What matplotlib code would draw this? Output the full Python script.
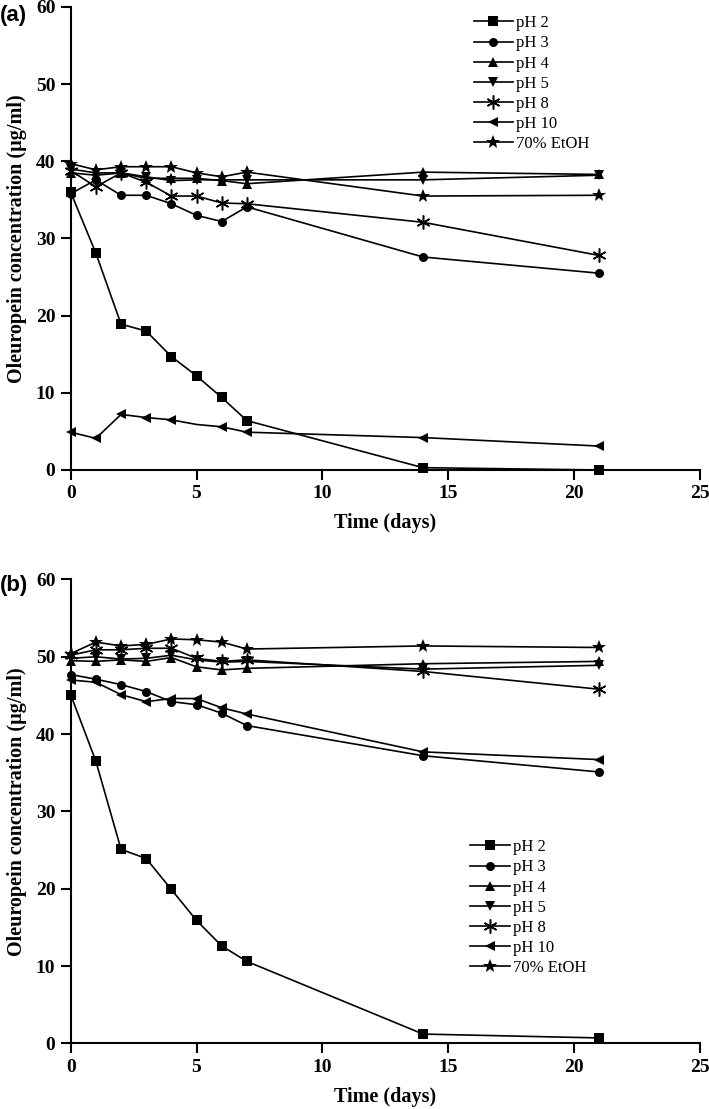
import numpy as np
import matplotlib.pyplot as plt

# sampling days (same for every series and both panels)
days = [0, 1, 2, 3, 4, 5, 6, 7, 14, 21]

labels = ['pH 2', 'pH 3', 'pH 4', 'pH 5', 'pH 8', 'pH 10', '70% EtOH']
markers = ['s', 'o', '^', 'v', (6, 2, 0), '<', '*']

# panel (a) values, ug/ml
a_ph2 = [36.0, 28.1, 18.9, 18.0, 14.7, 12.2, 9.4, 6.4, 0.3, 0.0]
a_ph3 = [35.8, 37.6, 35.6, 35.6, 34.5, 33.0, 32.2, 34.1, 27.6, 25.5]
a_ph4 = [38.5, 38.2, 38.5, 37.8, 37.8, 37.8, 37.5, 37.1, 38.6, 38.3]
a_ph5 = [39.0, 38.5, 38.5, 38.0, 37.5, 37.6, 37.6, 37.6, 37.6, 38.2]
a_ph8 = [38.8, 36.7, 38.5, 37.3, 35.5, 35.5, 34.6, 34.5, 32.1, 27.8]
a_ph10 = [4.9, 4.1, 7.2, 6.8, 6.5, 5.9, 5.6, 4.9, 4.2, 3.1]
a_etoh = [39.7, 38.9, 39.3, 39.3, 39.3, 38.5, 38.0, 38.6, 35.5, 35.6]

# panel (b) values, ug/ml
b_ph2 = [45.1, 36.5, 25.1, 23.9, 19.9, 15.9, 12.6, 10.6, 1.2, 0.7]
b_ph3 = [47.7, 47.1, 46.4, 45.5, 44.2, 43.8, 42.7, 41.1, 37.2, 35.1]
b_ph4 = [49.5, 49.4, 49.6, 49.4, 49.9, 48.7, 48.3, 48.5, 49.1, 49.4]
b_ph5 = [49.8, 50.0, 49.7, 49.8, 50.2, 49.6, 49.3, 49.4, 48.4, 48.9]
b_ph8 = [50.2, 50.9, 50.9, 51.1, 51.1, 49.8, 49.4, 49.6, 48.1, 45.8]
b_ph10 = [47.0, 46.7, 45.1, 44.2, 44.6, 44.6, 43.4, 42.6, 37.7, 36.7]
b_etoh = [50.4, 51.9, 51.4, 51.6, 52.3, 52.2, 51.9, 51.0, 51.4, 51.2]

panel_a = [a_ph2, a_ph3, a_ph4, a_ph5, a_ph8, a_ph10, a_etoh]
panel_b = [b_ph2, b_ph3, b_ph4, b_ph5, b_ph8, b_ph10, b_etoh]

serif = 'Liberation Serif'
msizes = [6.5, 6.5, 7.5, 7.5, 10, 7.5, 10]

fig = plt.figure(figsize=(7.09, 11.09), dpi=100)
ax_a = fig.add_axes([0.0997, 0.5762, 0.8875, 0.4175])
ax_b = fig.add_axes([0.0997, 0.0592, 0.8875, 0.4183])


def draw_panel(ax, series, legend_anchor, skip=None):
    for i, (vals, lab, mk) in enumerate(zip(series, labels, markers)):
        every = None
        if skip is not None and skip[0] == i:
            every = [k for k in range(len(days)) if k != skip[1]]
        ax.plot(days, vals, color='black', lw=1.2, marker=mk, ms=msizes[i],
                mfc='black', mec='black', mew=1.1 if i == 4 else 0,
                markevery=every, label=lab, clip_on=False, zorder=3)
    ax.set_xlim(0, 25)
    ax.set_ylim(0, 60)
    ax.set_xticks(np.arange(0, 26, 5))
    ax.set_yticks(np.arange(0, 61, 10))
    for side in ['top', 'right']:
        ax.spines[side].set_visible(False)
    for side in ['left', 'bottom']:
        ax.spines[side].set_linewidth(1.5)
    ax.tick_params(direction='out', length=7, width=1.5, pad=4)
    for t in ax.get_xticklabels() + ax.get_yticklabels():
        t.set_fontfamily(serif)
        t.set_fontweight('bold')
        t.set_fontsize(14)
    ax.set_xlabel('Time (days)', fontfamily=serif, fontweight='bold', fontsize=14.5, labelpad=8)
    ax.set_ylabel('Oleuropein concentration (\u00b5g/ml)', fontfamily=serif,
                  fontweight='bold', fontsize=14.5, labelpad=6)
    leg = ax.legend(loc='upper left', bbox_to_anchor=legend_anchor, frameon=False,
                    prop={'family': serif, 'size': 12}, handlelength=2.35,
                    handletextpad=0.2, labelspacing=0.25, borderpad=0,
                    markerscale=1.0)
    return leg


draw_panel(ax_a, panel_a, (0.627, 1.0), skip=(5, 5))
draw_panel(ax_b, panel_b, (0.622, 0.458))

fig.text(0.0, 0.986, '(a)', fontfamily='Liberation Sans', fontweight='bold', fontsize=16, va='center')
fig.text(0.0, 0.472, '(b)', fontfamily='Liberation Sans', fontweight='bold', fontsize=16, va='center')

fig.savefig('out.png', dpi=100)
